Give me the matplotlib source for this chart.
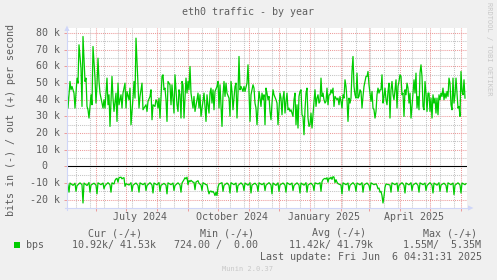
import datetime as dt
import numpy as np
import matplotlib
matplotlib.use("Agg")
import matplotlib.pyplot as plt
import matplotlib.dates as mdates
from matplotlib.patches import Polygon, Rectangle
from matplotlib.lines import Line2D

# ---------------- data ----------------
START = dt.datetime(2024, 5, 3)          # left edge of the 400-day window
SPAN_DAYS = 400

# outbound traffic (+), kbit/s, day offsets from START
out_days = [0, 1, 3, 4, 5, 7, 8, 10, 11, 12, 14, 15, 16, 18, 19, 20, 21, 22, 24, 25, 26, 28, 29, 30, 31, 32, 33, 34,
            36, 37, 38, 40, 41, 42, 43, 45, 46, 47, 49, 50, 51, 52, 54, 55, 56, 58, 59, 60, 62, 63, 64, 66, 67, 68,
            69, 71, 72, 73, 75, 76, 77, 79, 80, 81, 83, 84, 85, 86, 88, 89, 90, 91, 92, 93, 95, 96, 97, 98, 99, 100,
            101, 103, 104, 105, 106, 107, 108, 110, 111, 112, 113, 114, 115, 116, 117, 119, 120, 121, 122, 123, 124,
            126, 127, 128, 130, 131, 132, 133, 134, 136, 137, 138, 139, 140, 141, 142, 143, 144, 145, 146, 147, 148,
            150, 151, 152, 153, 155, 156, 157, 158, 159, 160, 162, 163, 164, 165, 166, 168, 169, 170, 171, 172, 173,
            174, 176, 177, 178, 180, 181, 182, 183, 184, 186, 187, 188, 189, 190, 192, 193, 194, 195, 196, 197,
            198, 199, 200, 201, 202, 203, 204, 205, 206, 207, 209, 210, 211, 213, 214, 215, 216, 217, 218, 219, 220,
            221, 222, 223, 224, 226, 227, 228, 229, 230, 231, 232, 233, 234, 235, 236, 237, 238, 239, 240, 241, 242,
            243, 244, 245, 246, 247, 248, 249, 250, 251, 252, 253, 254, 255, 256, 257, 258, 259, 260, 261, 262, 263,
            264, 265, 266, 267, 268, 270, 271, 272, 273, 274, 275, 276, 277, 278, 279, 280, 281, 282, 283, 284, 285,
            286, 287, 288, 289, 290, 291, 292, 293, 294, 295, 296, 297, 298, 299, 300, 301, 302, 303, 304, 305, 306,
            307, 308, 309, 310, 311, 312, 313, 314, 315, 316, 317, 318, 319, 320, 321, 322, 323, 324, 325, 326, 327,
            328, 329, 330, 331, 332, 333, 334, 335, 336, 337, 338, 339, 340, 341, 342, 343, 344, 345, 346, 347, 348,
            349, 350, 351, 352, 353, 354, 355, 356, 357, 358, 359, 360, 361, 362, 363, 364, 365, 366, 367, 368, 369,
            370, 371, 372, 373, 374, 375, 376, 377, 378, 379, 380, 381, 382, 383, 384, 385, 386, 387, 388, 389, 390,
            391, 392, 393, 394, 395, 396, 397, 398]
out_kbps = [48, 35, 51, 46, 48, 44, 35, 53, 50, 73, 59, 36, 78, 51, 53, 36, 34, 29, 43, 37, 72, 53, 38, 49, 65, 51, 44, 41,
            35, 40, 35, 53, 37, 43, 24, 54, 41, 33, 44, 27, 50, 37, 43, 35, 44, 50, 35, 45, 40, 47, 25, 41, 51, 41,
            77, 48, 35, 42, 50, 34, 35, 37, 33, 39, 42, 46, 28, 37, 36, 40, 39, 35, 41, 29, 54, 55, 46, 47, 40, 27,
            51, 49, 37, 49, 40, 32, 55, 37, 33, 46, 43, 29, 51, 49, 29, 53, 44, 51, 46, 60, 44,
            35, 42, 33, 40, 44, 35, 43, 30, 39, 44, 36, 27, 43, 37, 32, 44, 47, 38, 46, 34, 45,
            48, 51, 35, 49, 24, 43, 51, 42, 50, 44, 41, 30, 51, 45, 34, 48, 50, 29, 44, 66, 46,
            48, 45, 48, 45, 50, 61, 45, 27, 43, 49, 47, 38, 35, 25, 45, 41, 36, 44, 40, 43,
            25, 47, 44, 40, 42, 33, 28, 38, 46, 43, 40, 38, 25, 44, 41, 31, 41, 45, 32, 39, 44,
            34, 35, 33, 34, 30, 40, 44, 25, 37, 23, 42, 45, 46, 31, 30, 19, 34, 44, 47, 29, 24,
            25, 32, 23, 31, 39, 46, 36, 41, 43, 38, 39, 53, 42, 44, 40, 38, 39, 47, 37, 43, 43,
            46, 44, 47, 36, 42, 40, 41, 37, 42, 39, 35, 43, 41, 52, 48, 40, 27, 41, 38, 41, 57,
            66, 48, 43, 41, 56, 41, 42, 46, 45, 35, 42, 48, 51, 54, 54, 57, 49, 44, 39, 45, 35,
            34, 29, 33, 43, 47, 44, 46, 46, 55, 38, 42, 47, 40, 37, 45, 50, 29, 46, 51, 43, 40,
            46, 52, 35, 48, 51, 55, 54, 43, 44, 30, 46, 43, 50, 47, 38, 44, 29, 36, 44, 52, 44,
            56, 35, 42, 34, 56, 61, 54, 36, 34, 51, 44, 33, 44, 44, 33, 41, 29, 43, 38, 41, 32,
            41, 31, 43, 40, 44, 42, 47, 40, 44, 41, 45, 42, 53, 50, 37, 34, 53, 38, 43, 53, 44,
            35, 36, 30, 57, 45, 43, 52, 41]

# inbound traffic (-), kbit/s (drawn below zero), day offsets from START
in_days = [0, 1, 2, 3, 6, 8, 9, 10, 13, 15, 16, 17, 20, 22, 23, 24, 27,
           29, 30, 31, 34, 36, 37, 38, 41, 43, 44, 45, 47,
           48, 49, 50, 51, 52, 54, 55, 56, 57, 58, 59, 62,
           64, 65, 66, 69, 71, 72, 73, 76, 78, 79, 80, 83,
           85, 86, 87, 90, 92, 93, 94, 97, 99, 100, 101, 104,
           106, 107, 108, 111, 113, 114, 115,
           116, 117, 118, 119, 120, 121, 122, 123, 124, 126,
           127, 128, 129, 131, 132, 134, 135, 136, 139,
           140, 141, 142, 143, 144, 145, 146, 147, 148, 149, 150, 151, 152,
           155, 156, 157, 160, 162, 163, 164, 167, 169, 170, 171, 174,
           176, 177, 178, 181, 183, 184, 185, 188, 190, 191, 192, 195,
           197, 198, 199, 202, 204, 205, 206, 209, 211, 212, 213, 216,
           218, 219, 220, 223, 225, 226, 227, 230, 232, 233, 234, 237,
           239, 240, 241, 244, 246, 247, 248, 251, 253, 254, 255,
           256, 257, 258, 259, 260, 261, 262, 263, 264, 265, 266, 267, 268, 269, 270, 271,
           274, 275, 276, 279, 281, 282, 283, 286, 288, 289, 290, 293,
           295, 296, 297, 300, 302, 303, 304, 307,
           309, 310, 311, 312, 313, 314, 315, 316, 317, 318, 319,
           323, 324, 325, 328, 330, 331, 332, 335, 337, 338, 339, 342,
           344, 345, 346, 349, 351, 352, 353, 356, 358, 359, 360, 363,
           365, 366, 367, 370, 372, 373, 374, 377, 379, 380, 381, 384,
           386, 387, 388, 391, 393, 394, 395, 398, 399]
in_kbps = [9.8, 11.2, 15.5, 10.0, 11.4, 10.1, 15.0, 11.6, 9.9, 11.0, 22.0, 10.0, 11.5, 9.7, 15.5, 11.2, 10.1,
           11.3, 16.5, 9.9, 11.0, 10.0, 13.5, 11.6, 9.8, 11.1, 15.5, 9.9, 10.6,
           8.5, 7.5, 7.2, 9.5, 6.8, 6.5, 7.5, 7.0, 6.8, 12.0, 10.4, 11.2,
           9.8, 15.0, 11.3, 10.0, 11.4, 15.5, 9.9, 11.0, 10.0, 14.5, 11.5, 9.8,
           11.2, 16.0, 10.0, 11.1, 9.7, 15.0, 11.4, 10.2, 11.3, 16.5, 9.9, 11.0,
           10.0, 14.5, 11.5, 9.9, 11.2, 15.5, 10.0,
           9.0, 8.0, 6.8, 7.5, 6.5, 11.0, 8.5, 9.2, 8.4, 9.5,
           9.6, 14.0, 9.4, 8.6, 10.2, 11.2, 14.5, 9.8, 11.0,
           11.0, 14.0, 16.5, 15.0, 14.8, 15.5, 15.0, 16.0, 17.5, 15.5, 17.5, 12.5, 10.6,
           9.8, 15.0, 11.4, 10.0, 11.3, 16.0, 9.8, 11.0, 10.0, 15.5, 11.5, 9.9,
           11.2, 14.5, 10.0, 11.3, 9.8, 16.0, 11.2, 10.1, 11.4, 15.0, 9.9, 11.0,
           10.0, 14.5, 11.3, 9.8, 11.2, 16.5, 10.0, 11.4, 9.9, 15.0, 11.2, 10.0,
           11.3, 15.5, 9.8, 11.0, 10.0, 14.5, 11.5, 9.9, 11.2, 16.0, 10.0, 11.3,
           9.8, 15.5, 11.2, 10.1, 11.4, 14.5, 9.9, 10.6, 9.8, 15.0, 9.2,
           8.0, 7.5, 7.2, 7.6, 6.8, 9.5, 7.0, 7.4, 6.5, 7.8, 6.2, 6.4, 9.8, 8.0, 9.5, 10.4,
           11.2, 16.5, 9.9, 11.0, 10.0, 14.5, 11.4, 9.8, 11.3, 15.0, 10.0, 11.1,
           9.8, 15.5, 11.2, 10.0, 11.4, 14.5, 9.9, 11.0,
           10.5, 11.5, 13.5, 13.0, 15.5, 15.0, 17.5, 22.0, 18.0, 12.5, 10.6,
           11.2, 15.5, 9.9, 11.0, 10.0, 15.0, 11.4, 9.8, 11.3, 16.0, 10.0, 11.1,
           9.8, 14.5, 11.2, 10.0, 11.4, 15.5, 9.9, 11.0, 10.0, 14.5, 11.5, 9.8,
           11.2, 16.0, 10.0, 11.3, 9.8, 15.0, 11.2, 10.1, 11.4, 15.5, 9.9, 11.0,
           10.0, 17.0, 11.3, 9.9, 11.2, 16.0, 10.0, 11.0, 10.4]

title = "eth0 traffic - by year"
ylabel = "bits in (-) / out (+) per second"
ytick_values = [-20, -10, 0, 10, 20, 30, 40, 50, 60, 70, 80]
ytick_labels = ["-20 k", "-10 k", "0  ", "10 k", "20 k", "30 k", "40 k", "50 k", "60 k", "70 k", "80 k"]
xtick_dates = [dt.datetime(2024, 7, 15), dt.datetime(2024, 10, 15), dt.datetime(2025, 1, 15), dt.datetime(2025, 4, 15)]
xtick_labels = ["July 2024", "October 2024", "January 2025", "April 2025"]
legend_name = "bps"
legend_headers = ["Cur (-/+)", "Min (-/+)", "Avg (-/+)", "Max (-/+)"]
legend_values = ["10.92k/ 41.53k", "724.00 /  0.00", "11.42k/ 41.79k", "1.55M/  5.35M"]
last_update = "Last update: Fri Jun  6 04:31:31 2025"
watermark = "RRDTOOL / TOBI OETIKER"
footer = "Munin 2.0.37"

# ---------------- style ----------------
W, H = 497, 280
BG = "#F0F0F0"
FONT_C = "#5E5E5E"
AXIS_C = "#CFD6F8"
MGRID_C = "#EC9A9A"
GRID_C = "#C4C4C4"
LINE_C = "#00CC00"
MONO = "DejaVu Sans Mono"
FS = 7.2
CHAR_W = 0.602 * FS * 100 / 72

fig = plt.figure(figsize=(W / 100, H / 100), dpi=100, facecolor=BG)
L, R, T, B = 67, 467, 28, 208


def fx(x):
    return x / W


def fy(y):
    return 1 - y / H


ax = fig.add_axes([fx(L), fy(B), (R - L) / W, (B - T) / H])
ax.set_facecolor("white")
x0 = mdates.date2num(START)
ax.set_xlim(x0, x0 + SPAN_DAYS)
ax.set_ylim(-25.0, 83.1)
for s in ax.spines.values():
    s.set_visible(False)

dots = (0, (1, 1))
# horizontal grid
for v in range(-20, 85, 5):
    if v == 0:
        continue
    c = MGRID_C if v % 10 == 0 else GRID_C
    ax.axhline(v, color=c, lw=0.75, ls=dots, zorder=1)

# vertical grid: fortnightly minor, monthly major
d = dt.datetime(2024, 5, 12)
while mdates.date2num(d) < x0 + SPAN_DAYS:
    ax.axvline(mdates.date2num(d), color=GRID_C, lw=0.75, ls=dots, zorder=1)
    d += dt.timedelta(days=14)
month_starts = []
y_, m_ = 2024, 6
while True:
    md = dt.datetime(y_, m_, 1)
    if mdates.date2num(md) >= x0 + SPAN_DAYS:
        break
    month_starts.append(mdates.date2num(md))
    m_ += 1
    if m_ > 12:
        m_, y_ = 1, y_ + 1
for m in month_starts:
    ax.axvline(m, color=MGRID_C, lw=0.75, ls=dots, zorder=1.5)

ax.set_xticks(month_starts)
ax.set_yticks([v for v in range(-20, 85, 10)])
ax.tick_params(axis="both", which="major", direction="out", length=2.2, width=0.7,
               color=MGRID_C, labelbottom=False, labelleft=False)

ax.axhline(0, color="black", lw=0.8, zorder=2)

ax.plot(x0 + np.array(out_days), np.array(out_kbps), color=LINE_C, lw=0.9, zorder=3)
ax.plot(x0 + np.array(in_days), -np.array(in_kbps), color=LINE_C, lw=0.9, zorder=3)

# axes lines with arrows (figure pixel coords)
def fline(xs, ys, **kw):
    fig.add_artist(Line2D([fx(x) for x in xs], [fy(y) for y in ys], transform=fig.transFigure, **kw))


def fpoly(pts, **kw):
    fig.add_artist(Polygon([(fx(x), fy(y)) for x, y in pts], closed=True, transform=fig.transFigure, **kw))


fline([L, L], [B + 2, 30], color=AXIS_C, lw=0.8)
fpoly([(L, 25.5), (L - 2.6, 31), (L + 2.6, 31)], color=AXIS_C, lw=0)
fline([L - 2, 469], [B, B], color=AXIS_C, lw=0.8)
fpoly([(473.5, B), (468, B - 2.6), (468, B + 2.6)], color=AXIS_C, lw=0)

# texts
def ftext(x, y, s, **kw):
    kw.setdefault("fontfamily", MONO)
    kw.setdefault("fontsize", FS)
    kw.setdefault("color", FONT_C)
    fig.text(fx(x), fy(y), s, **kw)


ftext(248.5, 12, title, ha="center", va="center")
ftext(11, 120, ylabel, ha="center", va="center", rotation=90)

ytrans = ax.get_yaxis_transform()
for v, lab in zip(ytick_values, ytick_labels):
    trail = len(lab) - len(lab.rstrip())
    xr = 59.5 - trail * CHAR_W
    ax.text((xr - L) / (R - L), v, lab.rstrip(), transform=ytrans, ha="right", va="center",
            fontfamily=MONO, fontsize=FS, color=FONT_C)

xtrans = ax.get_xaxis_transform()
for d_, lab in zip(xtick_dates, xtick_labels):
    ax.text(mdates.date2num(d_), -(217 - B) / (B - T), lab, transform=xtrans, ha="center", va="center",
            fontfamily=MONO, fontsize=FS, color=FONT_C)

# legend
fig.add_artist(Rectangle((fx(14), fy(248)), 6 / W, 6 / H, transform=fig.transFigure,
                         facecolor=LINE_C, edgecolor="none"))
ftext(26, 245, legend_name, ha="left", va="center")
for xh, s in zip([88, 200, 312, 423], legend_headers):
    ftext(xh, 233, s, ha="left", va="center")
for xv, s in zip([72, 174, 289, 403], legend_values):
    ftext(xv, 245, s, ha="left", va="center")
ftext(260, 257.5, last_update, ha="left", va="center")

ftext(489, 48.5, watermark, ha="center", va="center", rotation=270, fontsize=5.0, color="#C8C8C8")
ftext(248, 269, footer, ha="center", va="center", fontsize=5.0, color="#C8C8C8")

fig.savefig("out.png", dpi=100, facecolor=BG)
